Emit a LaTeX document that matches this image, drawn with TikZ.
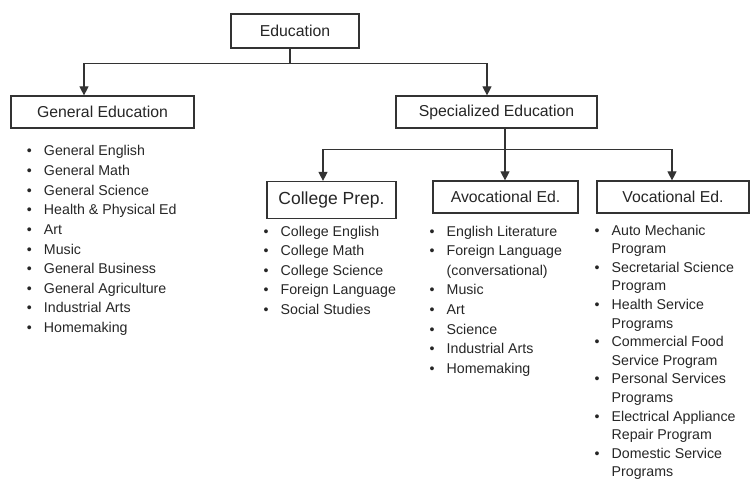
\documentclass[tikz,border=0pt]{standalone}
\usepackage{fontspec}
\setmainfont{Liberation Sans}
\usepackage{tikz}
\usetikzlibrary{positioning, arrows.meta}

\begin{document}
\begin{tikzpicture}[
  x=1pt, y=-1pt,
  box/.style  ={draw=black!80, line width=1.2pt, fill=white, inner sep=0pt,
                minimum height=32pt, text=black!85,
                font=\fontsize{15.8}{18}\selectfont},
  items/.style={anchor=base west, inner sep=0pt, text=black!85,
                font=\fontsize{14.2}{19.6}\selectfont},
  link/.style ={draw=black!80, line width=1.1pt},
  arr/.style  ={link, -{Triangle[width=9pt, length=9pt]}},
]
\useasboundingbox (0,0) rectangle (752,484);

% ---- Level 1: root ------------------------------------------------------
\node[box, minimum width=128pt, minimum height=34pt] (edu) at (295,31) {Education};

% ---- Level 2: the two branches ------------------------------------------
\node[box, minimum width=183pt] (gen)  at (102.5,112) {General Education};
\node[box, minimum width=201pt] (spec) at (496.5,112) {Specialized Education};

\draw[link] ([xshift=-5pt]edu.south) -- ++(0,15) coordinate (fork1);
\draw[arr]  (fork1) -| ([xshift=-18.5pt]gen.north);
\draw[arr]  (fork1) -| ([xshift=-9.5pt]spec.north);

% ---- Level 3: specialized tracks ----------------------------------------
\node[box, minimum width=129pt, minimum height=37pt,
      font=\fontsize{17.5}{20}\selectfont]    (prep) at (331.5,200) {College Prep.};
\node[box, minimum width=145pt]               (avoc) at (505.5,197) {Avocational Ed.};
\node[box, minimum width=152pt]               (voc)  at (673,197)   {Vocational Ed.};

\draw[link] ([xshift=8.5pt]spec.south) -- ++(0,21) coordinate (fork2);
\draw[arr]  (fork2) -| ([xshift=-8.5pt]prep.north);
\draw[arr]  (fork2) -- (fork2 |- avoc.north);
\draw[arr]  (fork2) -| ([xshift=-1pt]voc.north);

% ---- Course lists -------------------------------------------------------
\node[items] (genlist) at (26.8,156) {%
  \begin{tabular}[t]{@{}l@{\hspace{12pt}}l@{}}
    \textbullet & General English\\
    \textbullet & General Math\\
    \textbullet & General Science\\
    \textbullet & Health \& Physical Ed\\
    \textbullet & Art\\
    \textbullet & Music\\
    \textbullet & General Business\\
    \textbullet & General Agriculture\\
    \textbullet & Industrial Arts\\
    \textbullet & Homemaking\\
  \end{tabular}};

\node[items] (preplist) at (263.5,236) {%
  \begin{tabular}[t]{@{}l@{\hspace{12pt}}l@{}}
    \textbullet & College English\\
    \textbullet & College Math\\
    \textbullet & College Science\\
    \textbullet & Foreign Language\\
    \textbullet & Social Studies\\
  \end{tabular}};

\node[items] (avoclist) at (429.5,236) {%
  \begin{tabular}[t]{@{}l@{\hspace{12pt}}l@{}}
    \textbullet & English Literature\\
    \textbullet & Foreign Language\\
                & (conversational)\\
    \textbullet & Music\\
    \textbullet & Art\\
    \textbullet & Science\\
    \textbullet & Industrial Arts\\
    \textbullet & Homemaking\\
  \end{tabular}};

\node[items, font=\fontsize{14.2}{18.6}\selectfont] (voclist) at (594.5,235) {%
  \begin{tabular}[t]{@{}l@{\hspace{12pt}}l@{}}
    \textbullet & Auto Mechanic\\
                & Program\\
    \textbullet & Secretarial Science\\
                & Program\\
    \textbullet & Health Service\\
                & Programs\\
    \textbullet & Commercial Food\\
                & Service Program\\
    \textbullet & Personal Services\\
                & Programs\\
    \textbullet & Electrical Appliance\\
                & Repair Program\\
    \textbullet & Domestic Service\\
                & Programs\\
  \end{tabular}};
\end{tikzpicture}
\end{document}
